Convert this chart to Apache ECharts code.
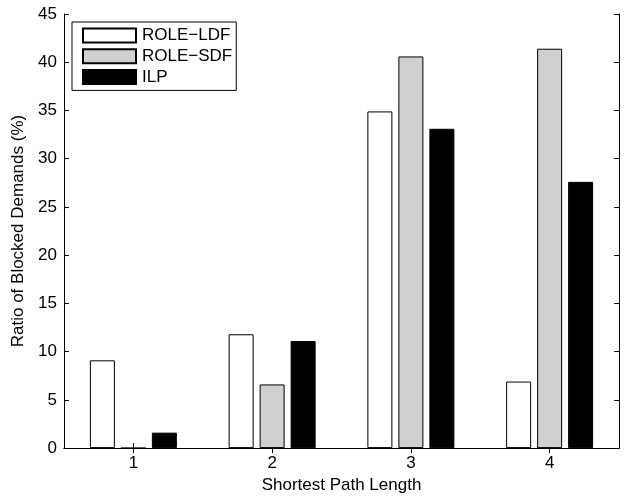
<!DOCTYPE html>
<html>
<head>
<meta charset="utf-8">
<script src="https://cdn.jsdelivr.net/npm/echarts@6/dist/echarts.min.js"></script>
<style>html,body{margin:0;padding:0;background:#fff}#c{width:626px;height:499px}</style>
</head>
<body>
<div id="c"></div>
<script>
var categories = ['1', '2', '3', '4'];
var roleLDF = [9.1, 11.8, 34.9, 6.9];
var roleSDF = [0, 6.6, 40.6, 41.4];
var ilp = [1.6, 11.1, 33.1, 27.6];
var seriesNames = ['ROLE\u2212LDF', 'ROLE\u2212SDF', 'ILP'];
var yTicks = {min: 0, max: 45, interval: 5};

var FONT = 'Liberation Sans, Arial, Helvetica, sans-serif';
var FS = 17;
var chart = echarts.init(document.getElementById('c'));
function bar(name, data, color) {
  return {
    name: name, type: 'bar', data: data, barWidth: 25, barGap: '24%',
    itemStyle: {color: color, borderColor: '#000', borderWidth: 1},
    emphasis: {disabled: true}, animation: false
  };
}
var tickStyle = {show: true, inside: true, length: 5, lineStyle: {color: '#000', width: 1}};
chart.setOption({
  animation: false,
  textStyle: {fontFamily: FONT},
  grid: {left: 64, right: 7, top: 14, bottom: 47, containLabel: false},
  legend: {
    orient: 'vertical', left: 72, top: 22,
    padding: [5, 4, 5, 10],
    itemWidth: 53, itemHeight: 14, itemGap: 3.7,
    borderColor: '#000', borderWidth: 1, backgroundColor: '#fff',
    icon: 'rect',
    textStyle: {fontFamily: FONT, fontSize: FS, color: '#000', lineHeight: 17, padding: [0, 0, 0, 1]},
    data: seriesNames
  },
  xAxis: [{
    type: 'category', data: categories, position: 'bottom',
    axisLine: {show: true, lineStyle: {color: '#000', width: 1}},
    axisTick: Object.assign({alignWithLabel: true}, tickStyle),
    axisLabel: {fontFamily: FONT, fontSize: FS, color: '#000', margin: 7},
    name: 'Shortest Path Length', nameLocation: 'middle', nameGap: 27,
    nameTextStyle: {fontFamily: FONT, fontSize: FS, color: '#000'},
    splitLine: {show: false}
  }, {
    type: 'category', data: categories, position: 'top',
    axisLine: {show: true, lineStyle: {color: '#000', width: 1}},
    axisTick: Object.assign({alignWithLabel: true}, tickStyle),
    axisLabel: {show: false}, splitLine: {show: false}
  }],
  yAxis: [{
    type: 'value', min: yTicks.min, max: yTicks.max, interval: yTicks.interval, position: 'left',
    axisLine: {show: true, lineStyle: {color: '#000', width: 1}},
    axisTick: tickStyle,
    axisLabel: {fontFamily: FONT, fontSize: FS, color: '#000', margin: 7},
    splitLine: {show: false},
    name: 'Ratio of Blocked Demands (%)', nameLocation: 'middle', nameGap: 32,
    nameTextStyle: {fontFamily: FONT, fontSize: FS, color: '#000'}
  }, {
    type: 'value', min: yTicks.min, max: yTicks.max, interval: yTicks.interval, position: 'right',
    axisLine: {show: true, lineStyle: {color: '#000', width: 1}},
    axisTick: tickStyle, axisLabel: {show: false}, splitLine: {show: false}
  }],
  series: [
    bar(seriesNames[0], roleLDF, '#ffffff'),
    bar(seriesNames[1], roleSDF, '#d0d0d0'),
    bar(seriesNames[2], ilp, '#000000')
  ]
});
</script>
</body>
</html>
